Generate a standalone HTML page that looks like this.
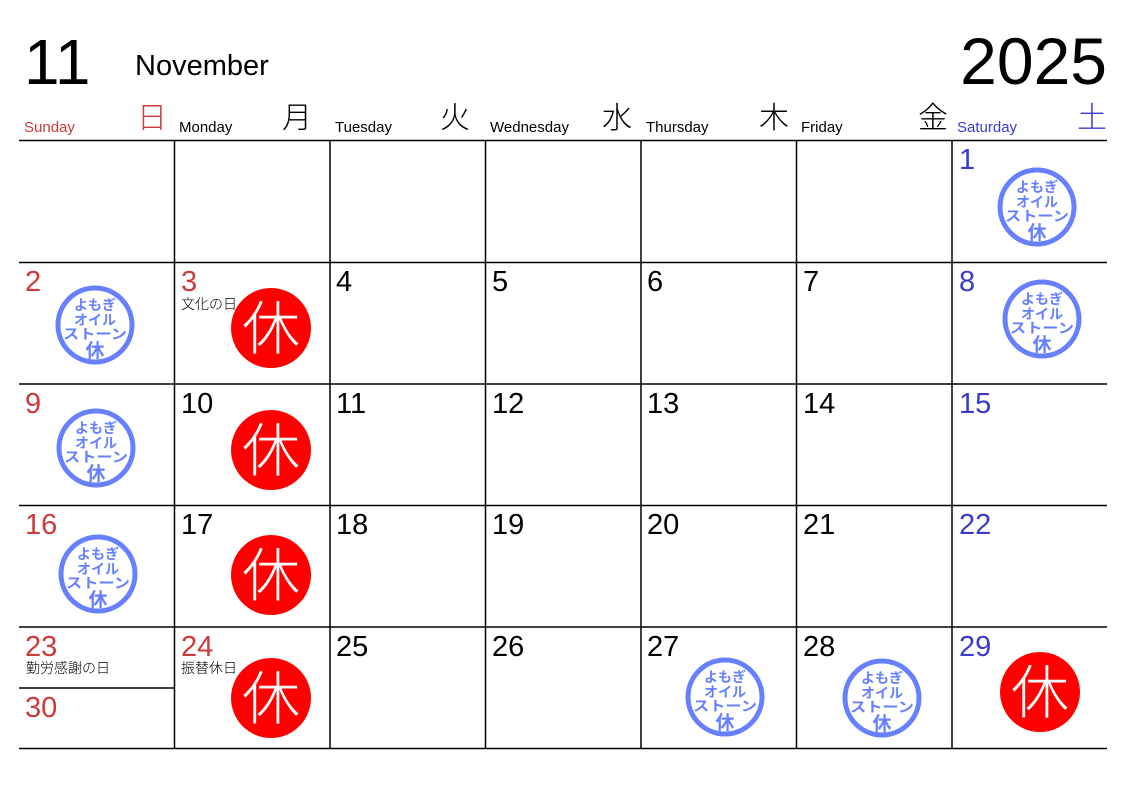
<!DOCTYPE html>
<html><head><meta charset="utf-8"><style>
html,body{margin:0;padding:0;background:#fff;}
svg{display:block;}
text{font-family:"Liberation Sans","Noto Sans CJK JP",sans-serif;}
</style></head><body>
<svg width="1126" height="794" viewBox="0 0 1126 794" xmlns="http://www.w3.org/2000/svg">
<defs>
<g id="st">
<circle cx="0" cy="0" r="37" fill="#fff" stroke="#6680ff" stroke-width="5"/>
<g fill="#6680ff" font-weight="bold" text-anchor="middle">
<text x="0" y="-15" font-size="14" style="font-family:'Noto Sans CJK JP',sans-serif">よもぎ</text>
<text x="0" y="0" font-size="14" style="font-family:'Noto Sans CJK JP',sans-serif">オイル</text>
<text x="0" y="14" font-size="14" style="font-family:'Noto Sans CJK JP',sans-serif" textLength="64" lengthAdjust="spacingAndGlyphs">ストーン</text>
<text x="0" y="32" font-size="19" style="font-family:'Noto Sans CJK JP',sans-serif">休</text>
</g>
</g>
<g id="rd">
<circle cx="0" cy="0" r="40" fill="#f00"/>
<text x="0" y="21" font-size="58" fill="#fff" text-anchor="middle" style="font-family:'Noto Sans CJK JP',sans-serif;font-weight:300">休</text>
</g>
</defs>
<text x="24" y="84" font-size="64">11</text>
<text x="135" y="75" font-size="29">November</text>
<text x="1107" y="84" font-size="66" text-anchor="end">2025</text>
<g font-size="15">
<text x="24" y="132" fill="#cc3a3a">Sunday</text>
<text x="179" y="132">Monday</text>
<text x="335" y="132">Tuesday</text>
<text x="490" y="132">Wednesday</text>
<text x="646" y="132">Thursday</text>
<text x="801" y="132">Friday</text>
<text x="957" y="132" fill="#3a3acc">Saturday</text>
</g>
<g font-size="30" text-anchor="end">
<text x="167" y="128" fill="#cc3a3a" style="font-family:'Noto Sans CJK JP',sans-serif;font-weight:300">日</text>
<text x="312" y="128" style="font-family:'Noto Sans CJK JP',sans-serif;font-weight:300">月</text>
<text x="470" y="128" style="font-family:'Noto Sans CJK JP',sans-serif;font-weight:300">火</text>
<text x="632" y="128" style="font-family:'Noto Sans CJK JP',sans-serif;font-weight:300">水</text>
<text x="789" y="128" style="font-family:'Noto Sans CJK JP',sans-serif;font-weight:300">木</text>
<text x="948" y="128" style="font-family:'Noto Sans CJK JP',sans-serif;font-weight:300">金</text>
<text x="1107" y="128" fill="#3a3acc" style="font-family:'Noto Sans CJK JP',sans-serif;font-weight:300">土</text>
</g>
<g stroke="#000" stroke-width="1.5">
<line x1="19" y1="140.5" x2="1107" y2="140.5"/>
<line x1="19" y1="262.5" x2="1107" y2="262.5"/>
<line x1="19" y1="384" x2="1107" y2="384"/>
<line x1="19" y1="505.5" x2="1107" y2="505.5"/>
<line x1="19" y1="627" x2="1107" y2="627"/>
<line x1="19" y1="748.5" x2="1107" y2="748.5"/>
<line x1="19" y1="688" x2="174" y2="688"/>
<line x1="174.5" y1="140" x2="174.5" y2="749"/>
<line x1="330" y1="140" x2="330" y2="749"/>
<line x1="485.5" y1="140" x2="485.5" y2="749"/>
<line x1="641" y1="140" x2="641" y2="749"/>
<line x1="796.5" y1="140" x2="796.5" y2="749"/>
<line x1="952" y1="140" x2="952" y2="749"/>
</g>
<g font-size="29">
<text x="959" y="169" fill="#3a3acc">1</text>
<text x="25" y="291" fill="#cc3a3a">2</text>
<text x="181" y="291" fill="#cc3a3a">3</text>
<text x="336" y="291">4</text>
<text x="492" y="291">5</text>
<text x="647" y="291">6</text>
<text x="803" y="291">7</text>
<text x="959" y="291" fill="#3a3acc">8</text>
<text x="25" y="413" fill="#cc3a3a">9</text>
<text x="181" y="413">10</text>
<text x="336" y="413">11</text>
<text x="492" y="413">12</text>
<text x="647" y="413">13</text>
<text x="803" y="413">14</text>
<text x="959" y="413" fill="#3a3acc">15</text>
<text x="25" y="534" fill="#cc3a3a">16</text>
<text x="181" y="534">17</text>
<text x="336" y="534">18</text>
<text x="492" y="534">19</text>
<text x="647" y="534">20</text>
<text x="803" y="534">21</text>
<text x="959" y="534" fill="#3a3acc">22</text>
<text x="25" y="656" fill="#cc3a3a">23</text>
<text x="181" y="656" fill="#cc3a3a">24</text>
<text x="336" y="656">25</text>
<text x="492" y="656">26</text>
<text x="647" y="656">27</text>
<text x="803" y="656">28</text>
<text x="959" y="656" fill="#3a3acc">29</text>
<text x="25" y="717" fill="#cc3a3a">30</text>
</g>
<use href="#st" x="1037" y="207"/>
<use href="#st" x="95" y="325"/>
<use href="#st" x="1042" y="319"/>
<use href="#st" x="96" y="448"/>
<use href="#st" x="98" y="574"/>
<use href="#st" x="725" y="697"/>
<use href="#st" x="882" y="698"/>
<use href="#rd" x="271" y="328"/>
<use href="#rd" x="271" y="450"/>
<use href="#rd" x="271" y="575"/>
<use href="#rd" x="271" y="698"/>
<use href="#rd" x="1040" y="692"/>
<g font-size="14">
<text x="181" y="309" style="font-family:'Noto Sans CJK JP',sans-serif;font-weight:300">文化の日</text>
<text x="26" y="673" style="font-family:'Noto Sans CJK JP',sans-serif;font-weight:300">勤労感謝の日</text>
<text x="181" y="673" style="font-family:'Noto Sans CJK JP',sans-serif;font-weight:300">振替休日</text>
</g>
</svg>
</body></html>
